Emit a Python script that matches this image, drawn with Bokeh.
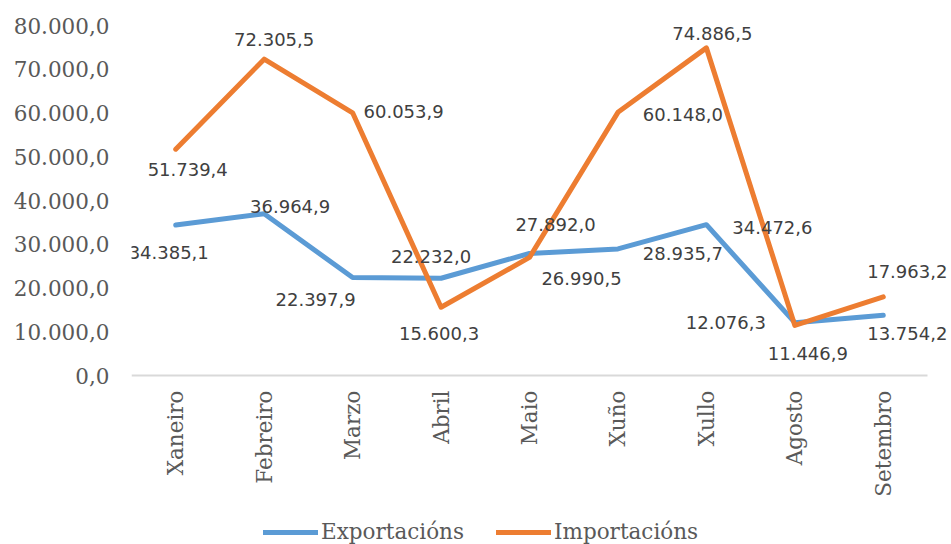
import math
from bokeh.plotting import figure
from bokeh.models import Range1d, ColumnDataSource, Legend, LegendItem, FixedTicker, LabelSet
from bokeh.core.properties import value
from bokeh.embed import file_html
from bokeh.resources import INLINE

months = ["Xaneiro", "Febreiro", "Marzo", "Abril", "Maio", "Xuño", "Xullo", "Agosto", "Setembro"]
exportacions = [34385.1, 36964.9, 22397.9, 22232.0, 27892.0, 28935.7, 34472.6, 12076.3, 13754.2]
importacions = [51739.4, 72305.5, 60053.9, 15600.3, 26990.5, 60148.0, 74886.5, 11446.9, 17963.2]
y_ticks = [0, 10000, 20000, 30000, 40000, 50000, 60000, 70000, 80000]
y_tick_labels = ["0,0", "10.000,0", "20.000,0", "30.000,0", "40.000,0",
                 "50.000,0", "60.000,0", "70.000,0", "80.000,0"]

# label placement (screen pixel offsets, +y = down)
exp_dx = [-7, 26, -37, -10, 26, 65, 66, -69, 24]
exp_dy = [27, -7, 22, -22, -29, 5, 3, 0, 18]
imp_dx = [12, 10, 51, -2, 52, 65, 6, 13, 24]
imp_dy = [20, -20, -1, 26, 21, 2, -14, 28, -25]


def fmt(v):
    s = f"{v:,.1f}"
    return s.replace(",", "X").replace(".", ",").replace("X", ".")


BLUE = "#5B9BD5"
ORANGE = "#ED7D31"
SERIF = "DejaVu Serif"

W, H = 951, 544
LEFT = 131            # plot area left edge (px)
PLOT_TOP = 25         # pixel of the 80.000 line
PLOT_BOTTOM = 375     # pixel of the 0 line
n = len(months)
xs = list(range(n))
cat_px = 796 / n                      # pixel width of one category slot
frame_w = W - LEFT
units_per_px = 80000 / (PLOT_BOTTOM - PLOT_TOP)

p = figure(frame_width=frame_w, frame_height=H,
           x_range=Range1d(-0.5, -0.5 + frame_w / cat_px),
           y_range=Range1d(-(H - PLOT_BOTTOM) * units_per_px, PLOT_BOTTOM * units_per_px),
           output_backend="svg", toolbar_location=None,
           min_border_left=LEFT, min_border_right=0, min_border_top=0, min_border_bottom=0)
p.outline_line_color = None
p.xgrid.visible = False
p.ygrid.visible = False

r_exp = p.line(xs, exportacions, line_color=BLUE, line_width=5, line_cap="round", line_join="round")
r_imp = p.line(xs, importacions, line_color=ORANGE, line_width=5, line_cap="round", line_join="round")

src_e = ColumnDataSource(dict(x=xs, y=exportacions, t=[fmt(v) for v in exportacions],
                              dx=exp_dx, dy=[-d for d in exp_dy]))
src_i = ColumnDataSource(dict(x=xs, y=importacions, t=[fmt(v) for v in importacions],
                              dx=imp_dx, dy=[-d for d in imp_dy]))
for src in (src_e, src_i):
    p.add_layout(LabelSet(x="x", y="y", text="t", x_offset="dx", y_offset="dy", source=src,
                          text_font=value("DejaVu Sans"), text_font_size=value("18px"),
                          text_color="#404040", text_align="center", text_baseline="middle"))

# y axis
p.yaxis.ticker = FixedTicker(ticks=y_ticks)
p.yaxis.major_label_overrides = {t: l for t, l in zip(y_ticks, y_tick_labels)}
p.yaxis.axis_line_color = None
p.yaxis.major_tick_line_color = None
p.yaxis.minor_tick_line_color = None
p.yaxis.major_tick_out = 0
p.yaxis.major_tick_in = 0
p.yaxis.major_label_standoff = 22
p.yaxis.major_label_text_font = SERIF
p.yaxis.major_label_text_font_size = "21.5px"
p.yaxis.major_label_text_color = "#595959"

# x axis (categories), drawn at value 0
p.xaxis.fixed_location = 0
p.xaxis.ticker = FixedTicker(ticks=xs)
p.xaxis.major_label_overrides = {x: m for x, m in zip(xs, months)}
p.xaxis.bounds = (-0.5, n - 0.5)
p.xaxis.axis_line_color = "#D9D9D9"
p.xaxis.axis_line_width = 2
p.xaxis.major_tick_line_color = None
p.xaxis.minor_tick_line_color = None
p.xaxis.major_tick_out = 0
p.xaxis.major_tick_in = 0
p.xaxis.major_label_orientation = math.pi / 2
p.xaxis.major_label_standoff = 15
p.xaxis.major_label_text_font = SERIF
p.xaxis.major_label_text_font_size = "21.5px"
p.xaxis.major_label_text_color = "#595959"

legend = Legend(items=[LegendItem(label="Exportacións", renderers=[r_exp]),
                       LegendItem(label="Importacións", renderers=[r_imp])],
                orientation="horizontal", location=(132, 0),
                border_line_color=None, background_fill_alpha=0,
                label_text_font=SERIF, label_text_font_size="21.5px", label_text_color="#595959",
                glyph_width=55, glyph_height=20, label_standoff=3, spacing=32,
                padding=0, margin=0)
p.add_layout(legend, "center")

open("out.html", "w").write(file_html(p, INLINE))
